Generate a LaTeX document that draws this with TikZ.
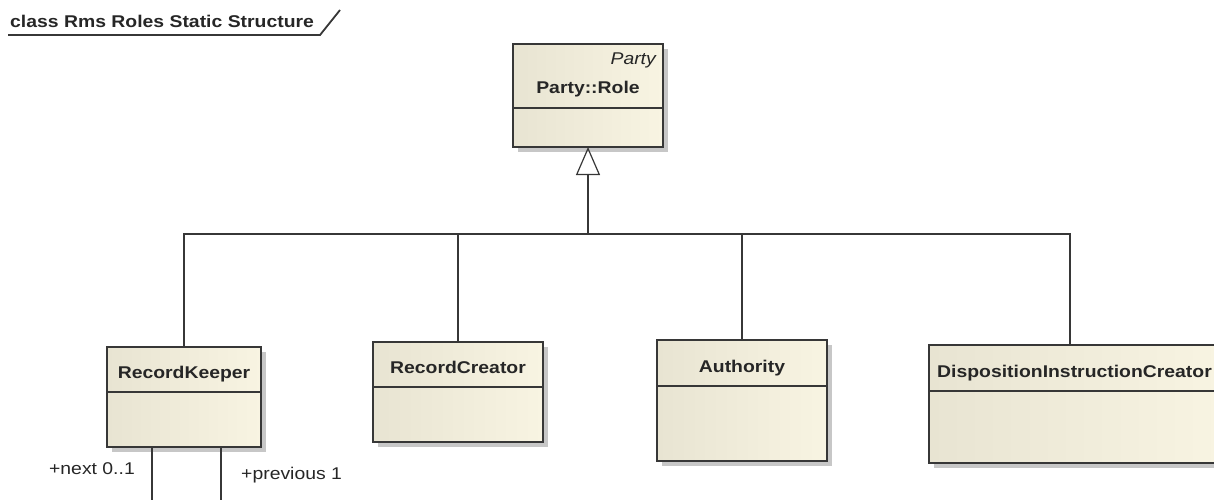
\documentclass[tikz,border=0pt]{standalone}
\usepackage{fontspec}
\newfontfamily\umlfont[FakeStretch=1.14]{Liberation Sans}
\usepackage{tikz}
\usetikzlibrary{calc,arrows.meta}
\definecolor{umlline}{RGB}{55,55,55}
\definecolor{creamleft}{RGB}{232,228,210}
\definecolor{creamright}{RGB}{248,244,226}
\tikzset{
	classbox/.style={draw=umlline, line width=1.2pt, left color=creamleft, right color=creamright, anchor=north west, inner sep=0pt, outer sep=0pt},
	classname/.style={font=\umlfont\bfseries\fontsize{17}{20}\selectfont, text=black!85, anchor=base, inner sep=0pt},
	rolename/.style={font=\umlfont\fontsize{17}{20}\selectfont, text=black!85, inner sep=0pt},
	link/.style={draw=umlline, line width=1.2pt},
}
% name, top left corner, width : height : header height : label baseline below top, label
\def\umlclass(#1)(#2,#3)(#4:#5:#6:#7)#8{
	\fill[black!22] (#2+5,#3+5) rectangle ++(#4,#5);
	\node[classbox, minimum width=#4pt, minimum height=#5pt] (#1) at (#2,#3) {};
	\draw[link] (#2,#3+#6) -- ++(#4,0);
	\node[classname] (#1-name) at (#2+#4/2,#3+#7) {#8};
}

\begin{document}
\begin{tikzpicture}[x=1pt, y=-1pt]
				\useasboundingbox (0,0) rectangle (1214,499);
				\clip (0,0) rectangle (1214,499);
				
				\node[classname, anchor=base west] (title) at (10,27) {class Rms Roles Static Structure};
				\draw[umlline, line width=1.8pt] (8,35) -- (320,35) -- (340,10);
				
				\umlclass(party)(513,44)(150:103:64:49){Party::Role}
				\node[rolename, anchor=base east, font=\umlfont\itshape\fontsize{17}{20}\selectfont] (party-pkg) at (656,64) {Party};
				
				\umlclass(rk)(107,347)(154:100:45:31){RecordKeeper}
				\umlclass(rc)(373,342)(170:100:45:31){RecordCreator}
				\umlclass(auth)(657,340)(170:121:46:32){Authority}
				\umlclass(dic)(929,345)(291:118:46:32){DispositionInstructionCreator}
				
				% generalization
				\coordinate (bus) at (588,234);
				\draw[link, -{Triangle[open, length=28pt, width=24pt]}] (bus) -- (party);
				\draw[link] (rk) |- (bus) -| ([xshift=-4.5pt]dic.north);
				\draw[link] (rc) |- (bus);
				\draw[link] (auth) |- (bus);
				
				% self association of RecordKeeper
				\coordinate (nextend) at (152,510);
				\coordinate (prevend) at (221,510);
				\draw[link] (rk.south -| nextend) -- (nextend);
				\draw[link] (rk.south -| prevend) -- (prevend);
				\node[rolename, anchor=base east] (next) at (135,474) {+next 0..1};
				\node[rolename, anchor=base west] (previous) at (241,479) {+previous 1};
\end{tikzpicture}
\end{document}
